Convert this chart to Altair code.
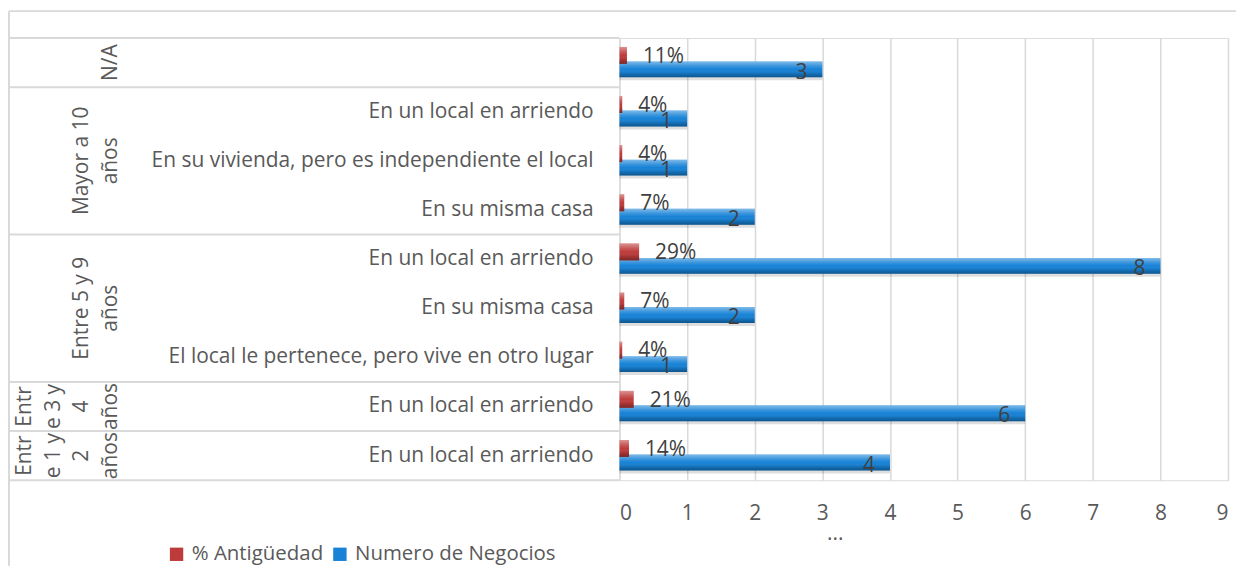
import altair as alt
import pandas as pd

# ---------------- data ----------------
grupos = ["N/A", "Mayor a 10 años", "Mayor a 10 años", "Mayor a 10 años",
          "Entre 5 y 9 años", "Entre 5 y 9 años", "Entre 5 y 9 años",
          "Entre 3 y 4 años", "Entre 1 y 2 años"]
ubicaciones = ["", "En un local en arriendo ",
               "En su vivienda, pero es independiente el local",
               "En su misma casa", "En un local en arriendo ",
               "En su misma casa",
               "El local le pertenece, pero vive en otro lugar",
               "En un local en arriendo ", "En un local en arriendo "]
antiguedad_pct = [11, 4, 4, 7, 29, 7, 4, 21, 14]
numero_negocios = [3, 1, 1, 2, 8, 2, 1, 6, 4]
x_ticks = [0, 1, 2, 3, 4, 5, 6, 7, 8, 9]
series = ["% Antigüedad", "Numero de Negocios"]
colores = ["#BE3B3B", "#1782D6"]
# group labels as wrapped in the original (rotated text)
lineas_grupo = {
    "N/A": ["N/A"],
    "Mayor a 10 años": ["Mayor a 10", "años"],
    "Entre 5 y 9 años": ["Entre 5 y 9", "años"],
    "Entre 3 y 4 años": ["Entr", "e 3 y", "4", "años"],
    "Entre 1 y 2 años": ["Entr", "e 1 y", "2", "años"],
}
titulo_x = "..."

FONT = "Open Sans"
FS = 21
GRID = "#D9D9D9"
TXT = "#595959"

# ---------------- tables ----------------
claves = [str(i) for i in range(len(grupos))]
filas = pd.DataFrame({"fila": claves, "grupo": grupos, "ubicacion": ubicaciones})

barras = pd.DataFrame({
    "fila": claves * 2,
    "serie": [series[0]] * len(claves) + [series[1]] * len(claves),
    "valor": [p / 100 for p in antiguedad_pct] + list(numero_negocios),
    "etiqueta": [f"{p}%" for p in antiguedad_pct] + [str(n) for n in numero_negocios],
})
rojas = barras[barras.serie == series[0]]
azules = barras[barras.serie == series[1]]

# group boundaries and group label rows
inicio, medios, lineas, nlin = [], [], [], []
orden = []
for g in grupos:
    if g not in orden:
        orden.append(g)
for g in orden:
    idx = [i for i, gg in enumerate(grupos) if gg == g]
    inicio.append(claves[idx[0]])
    medios.append(claves[idx[len(idx) // 2]])
    lineas.append(lineas_grupo[g])
    nlin.append(len(lineas_grupo[g]))
limites_ini = pd.DataFrame({"fila": inicio})
limite_fin = pd.DataFrame({"fila": [claves[-1]]})
etq_grupos = pd.DataFrame({"fila": medios, "lineas": lineas, "n": nlin})
uno = pd.DataFrame({"k": [0]})

W, H = 611, 444
LEFT = 614
LH = 28.5

Ysc = alt.Scale(paddingInner=0, paddingOuter=0)


def yenc(**kw):
    return alt.Y("fila:N", sort=claves, scale=Ysc, axis=None, **kw)


xaxis = alt.Axis(values=x_ticks, grid=True, gridColor=GRID, gridWidth=1.5,
                 ticks=False, domain=False, labelFont=FONT, labelFontSize=FS,
                 labelColor=TXT, labelPadding=22, title=titulo_x,
                 titleFont=FONT, titleFontSize=FS, titleFontWeight="normal",
                 titleColor=TXT, titleX=216, titleY=60, titleAlign="center",
                 titleBaseline="alphabetic")
X = alt.X("valor:Q", scale=alt.Scale(domain=[0, 9], nice=False), axis=xaxis)

color = alt.Color("serie:N", scale=alt.Scale(domain=series, range=colores),
                  legend=alt.Legend(orient="none", legendX=-455, legendY=508,
                                    direction="horizontal", title=None,
                                    symbolType="square", symbolSize=180,
                                    symbolStrokeWidth=0, labelFont=FONT,
                                    labelFontSize=20.5, labelColor=TXT,
                                    labelLimit=400,
                                    labelOffset=5, columnPadding=6, padding=0))

shade = alt.Gradient(gradient="linear", x1=0, x2=0, y1=0, y2=1, stops=[
    alt.GradientStop(color="rgba(255,255,255,0.45)", offset=0),
    alt.GradientStop(color="rgba(255,255,255,0.15)", offset=0.3),
    alt.GradientStop(color="rgba(255,255,255,0)", offset=0.5),
    alt.GradientStop(color="rgba(0,0,0,0.12)", offset=0.75),
    alt.GradientStop(color="rgba(0,0,0,0.35)", offset=1),
])

RED_OFF, BLUE_OFF = -7.2, 6.8

sombra = alt.Chart(azules).mark_bar(color="#000000", opacity=0.13, size=16,
                                    yOffset=BLUE_OFF + 3).encode(x=X, y=yenc())
barra_roja = alt.Chart(rojas).mark_bar(size=17, yOffset=RED_OFF).encode(x=X, y=yenc(), color=color)
barra_azul = alt.Chart(azules).mark_bar(size=16, yOffset=BLUE_OFF).encode(x=X, y=yenc(), color=color)
brillo_rojo = alt.Chart(rojas).mark_bar(size=17, yOffset=RED_OFF, color=shade).encode(x=X, y=yenc())
brillo_azul = alt.Chart(azules).mark_bar(size=16, yOffset=BLUE_OFF, color=shade).encode(x=X, y=yenc())

txt_rojo = alt.Chart(rojas).mark_text(align="left", baseline="middle", dx=16, dy=-6,
                                      font=FONT, fontSize=FS, color="#404040").encode(
    x=X, y=yenc(), text="etiqueta:N")
txt_azul = alt.Chart(azules).mark_text(align="right", baseline="middle", dx=-15, dy=10,
                                       font=FONT, fontSize=FS, color="#404040").encode(
    x=X, y=yenc(), text="etiqueta:N")

sub_lbl = alt.Chart(filas).mark_text(align="right", baseline="middle", font=FONT,
                                     fontSize=FS, color=TXT).encode(
    x=alt.value(-26), y=yenc(), text="ubicacion:N")

# rotated, wrapped group labels: the last line of every group sits in the same column
grp_layers = []
for n in sorted(set(nlin)):
    grp_layers.append(
        alt.Chart(etq_grupos).transform_filter(alt.datum.n == n).mark_text(
            align="center", baseline="bottom", angle=270, font=FONT, fontSize=FS,
            color=TXT, lineHeight=LH).encode(
            x=alt.value(-501 - (n - 1) * LH), y=yenc(), text="lineas:N"))

sep_ini = alt.Chart(limites_ini).mark_rule(color=GRID, strokeWidth=2).encode(
    x=alt.value(-LEFT), x2=alt.value(0), y=yenc(bandPosition=0))
sep_fin = alt.Chart(limite_fin).mark_rule(color=GRID, strokeWidth=2).encode(
    x=alt.value(-LEFT), x2=alt.value(0), y=yenc(bandPosition=1))

borde_sup = alt.Chart(uno).mark_rule(color=GRID, strokeWidth=2).encode(
    x=alt.value(-LEFT + 1), x2=alt.value(W + 8), y=alt.value(-27))
borde_izq = alt.Chart(uno).mark_rule(color=GRID, strokeWidth=2).encode(
    x=alt.value(-LEFT + 1), y=alt.value(-27), y2=alt.value(H + 86))

chart = alt.layer(
    borde_sup, borde_izq, sep_ini, sep_fin,
    sombra, barra_azul, brillo_azul, barra_roja, brillo_rojo,
    txt_rojo, txt_azul, sub_lbl, *grp_layers,
).properties(
    width=W, height=H,
    padding={"left": LEFT, "top": 29, "right": 8, "bottom": 86},
    autosize=alt.AutoSizeParams(type="none"),
).configure_view(stroke=None).configure(font=FONT)

chart.save("out.html", embed_options={"renderer": "svg", "actions": False})
